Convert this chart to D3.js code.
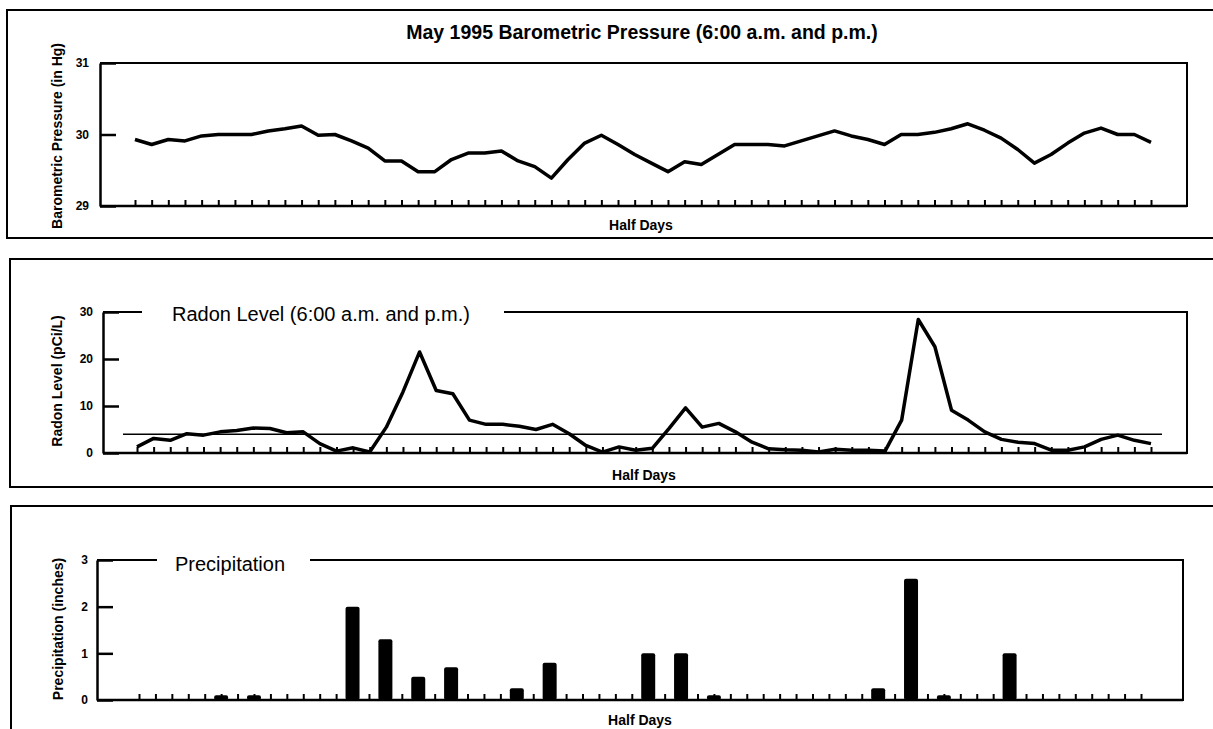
<!DOCTYPE html>
<html>
<head>
<meta charset="utf-8">
<script src="https://cdn.jsdelivr.net/npm/d3@7"></script>
<style>
  body { margin: 0; background: #fff; }
  svg text { font-family: "Liberation Sans", Arial, Helvetica, sans-serif; fill: #000; }
</style>
</head>
<body>
<svg id="chart" width="1213" height="729"></svg>
<script>
"use strict";

// 62 half days: May 1 a.m. ... May 31 p.m.
const halfDays = d3.range(62);

// barometric pressure, in Hg
const pressure = [
  29.93, 29.86, 29.93, 29.91, 29.98, 30.00, 30.00, 30.00, 30.05, 30.08,
  30.12, 29.99, 30.00, 29.91, 29.81, 29.63, 29.63, 29.48, 29.48, 29.65,
  29.74, 29.74, 29.77, 29.63, 29.55, 29.39, 29.65, 29.88, 29.99, 29.86,
  29.72, 29.60, 29.48, 29.62, 29.58, 29.72, 29.86, 29.86, 29.86, 29.84,
  29.91, 29.98, 30.05, 29.98, 29.93, 29.86, 30.00, 30.00, 30.03, 30.08,
  30.15, 30.06, 29.95, 29.79, 29.60, 29.72, 29.88, 30.02, 30.09, 30.00,
  30.00, 29.89
];

// radon level, pCi/L
const radon = [
  1.3, 3.1, 2.7, 4.1, 3.8, 4.5, 4.8, 5.3, 5.2, 4.3,
  4.5, 2.0, 0.4, 1.1, 0.2, 5.5, 13.0, 21.5, 13.3, 12.6,
  7.0, 6.1, 6.1, 5.7, 5.0, 6.1, 4.1, 1.6, 0.2, 1.3,
  0.6, 1.0, 5.2, 9.6, 5.5, 6.3, 4.5, 2.3, 0.9, 0.7,
  0.6, 0.2, 0.8, 0.6, 0.6, 0.4, 7.0, 28.4, 22.6, 9.1,
  7.0, 4.5, 2.9, 2.3, 2.0, 0.6, 0.6, 1.3, 2.9, 3.8,
  2.7, 2.0
];
const radonActionLevel = 4;

// precipitation, inches
const precipitation = [
  0, 0, 0, 0, 0, 0.1, 0, 0.1, 0, 0,
  0, 0, 0, 2.0, 0, 1.3, 0, 0.5, 0, 0.7,
  0, 0, 0, 0.25, 0, 0.8, 0, 0, 0, 0,
  0, 1.0, 0, 1.0, 0, 0.1, 0, 0, 0, 0,
  0, 0, 0, 0, 0, 0.25, 0, 2.6, 0, 0.1,
  0, 0, 0, 1.0, 0, 0, 0, 0, 0, 0,
  0, 0
];

const pressureTicks = [29, 30, 31];
const radonTicks = [0, 10, 20, 30];
const precipTicks = [0, 1, 2, 3];

const svg = d3.select("#chart");

function hline(g, x1, x2, y, w) {
  g.append("line")
    .attr("x1", x1).attr("x2", x2)
    .attr("y1", y).attr("y2", y)
    .attr("stroke", "#000").attr("stroke-width", w || 2);
}

function vline(g, x, y1, y2, w) {
  g.append("line")
    .attr("x1", x).attr("x2", x)
    .attr("y1", y1).attr("y2", y2)
    .attr("stroke", "#000").attr("stroke-width", w || 2);
}

function drawPanel(p) {
  let g = svg.append("g");

  // outer frame (runs off the right edge)
  g.append("rect")
    .attr("x", p.box[0]).attr("y", p.box[1])
    .attr("width", 1240).attr("height", p.box[2])
    .attr("fill", "none").attr("stroke", "#000").attr("stroke-width", 2);

  let x = d3.scaleLinear().domain([0, halfDays.length - 1]).range(p.xRange);
  let y = d3.scaleLinear().domain(d3.extent(p.ticks)).range(p.yRange);

  let top = y(p.ticks[p.ticks.length - 1]);
  let bottom = y(p.ticks[0]);

  // top border, broken by an inline title if there is one
  if (p.gap) {
    hline(g, p.left, p.gap[0], top);
    hline(g, p.gap[1], p.right, top);
  } else {
    hline(g, p.left, p.right, top);
  }
  vline(g, p.right, top - 1, bottom + 1);
  hline(g, p.left, p.right, bottom, 2.5);

  let yAxis = d3.axisLeft(y)
    .tickValues(p.ticks)
    .tickFormat(d3.format("d"))
    .tickSize(-16)
    .tickSizeOuter(0)
    .tickPadding(p.pad);

  let gY = g.append("g")
    .attr("transform", "translate(" + p.left + ",0)")
    .call(yAxis);
  gY.select(".domain").attr("stroke-width", 2.5);
  gY.selectAll(".tick line").attr("stroke-width", 2.5);
  gY.selectAll(".tick text")
    .style("font-size", "12px")
    .style("font-weight", "bold");

  let xAxis = d3.axisBottom(x)
    .tickValues(halfDays)
    .tickSize(-6)
    .tickSizeOuter(0)
    .tickFormat("");

  let gX = g.append("g")
    .attr("transform", "translate(0," + bottom + ")")
    .call(xAxis);
  gX.select(".domain").remove();
  gX.selectAll(".tick line").attr("stroke-width", 2);

  // y axis title
  g.append("text")
    .attr("transform", "translate(" + p.yLabelX + "," + p.yLabelY + ") rotate(-90)")
    .attr("text-anchor", "middle")
    .style("font-size", "14px")
    .style("font-weight", "bold")
    .text(p.yLabel);

  g.append("text")
    .attr("x", p.xLabel[0]).attr("y", p.xLabel[1])
    .attr("text-anchor", "middle")
    .style("font-size", "14px")
    .style("font-weight", "bold")
    .text("Half Days");

  return { g: g, x: x, y: y };
}

// ---- barometric pressure ----
let p1 = drawPanel({
  box: [7, 10, 228],
  left: 100, right: 1187,
  xRange: [135, 1151], yRange: [206, 63],
  ticks: pressureTicks, pad: 11,
  yLabel: "Barometric Pressure (in Hg)", yLabelX: 62, yLabelY: 136,
  xLabel: [641, 230]
});

p1.g.append("text")
  .attr("x", 642).attr("y", 39)
  .attr("text-anchor", "middle")
  .style("font-size", "19.5px")
  .style("font-weight", "bold")
  .text("May 1995 Barometric Pressure (6:00 a.m. and p.m.)");

p1.g.append("path")
  .datum(pressure)
  .attr("fill", "none")
  .attr("stroke", "#000")
  .attr("stroke-width", 3.5)
  .attr("stroke-linejoin", "round")
  .attr("d", d3.line().x(function(d, i) { return p1.x(i); }).y(function(d) { return p1.y(d); }));

// ---- radon ----
let p2 = drawPanel({
  box: [10, 259, 228],
  left: 103, right: 1187,
  xRange: [137, 1151], yRange: [453, 312],
  ticks: radonTicks, pad: 10,
  gap: [142, 504],
  yLabel: "Radon Level (pCi/L)", yLabelX: 62, yLabelY: 381,
  xLabel: [644, 480]
});

p2.g.append("text")
  .attr("x", 172).attr("y", 321)
  .style("font-size", "20px")
  .text("Radon Level (6:00 a.m. and p.m.)");

// action level reference line
hline(p2.g, p2.x(0) - 14, p2.x(halfDays.length - 1) + 11, p2.y(radonActionLevel), 1.5);

p2.g.append("path")
  .datum(radon)
  .attr("fill", "none")
  .attr("stroke", "#000")
  .attr("stroke-width", 3.5)
  .attr("stroke-linejoin", "round")
  .attr("d", d3.line().x(function(d, i) { return p2.x(i); }).y(function(d) { return p2.y(d); }));

// ---- precipitation ----
let p3 = drawPanel({
  box: [11, 506, 300],
  left: 97, right: 1183,
  xRange: [139, 1141], yRange: [700, 560],
  ticks: precipTicks, pad: 9,
  gap: [157, 310],
  yLabel: "Precipitation (inches)", yLabelX: 63, yLabelY: 629,
  xLabel: [640, 725]
});

p3.g.append("text")
  .attr("x", 175).attr("y", 571)
  .style("font-size", "20px")
  .text("Precipitation");

let rain = precipitation
  .map(function(v, i) { return { i: i, v: v }; })
  .filter(function(d) { return d.v > 0; });

p3.g.selectAll("rect.bar")
  .data(rain)
  .enter()
  .append("rect")
  .attr("class", "bar")
  .attr("x", function(d) { return p3.x(d.i) - 7; })
  .attr("width", 14)
  .attr("y", function(d) { return p3.y(d.v); })
  .attr("height", function(d) { return p3.y(0) - p3.y(d.v); })
  .attr("rx", 2)
  .attr("fill", "#000");
</script>
</body>
</html>
